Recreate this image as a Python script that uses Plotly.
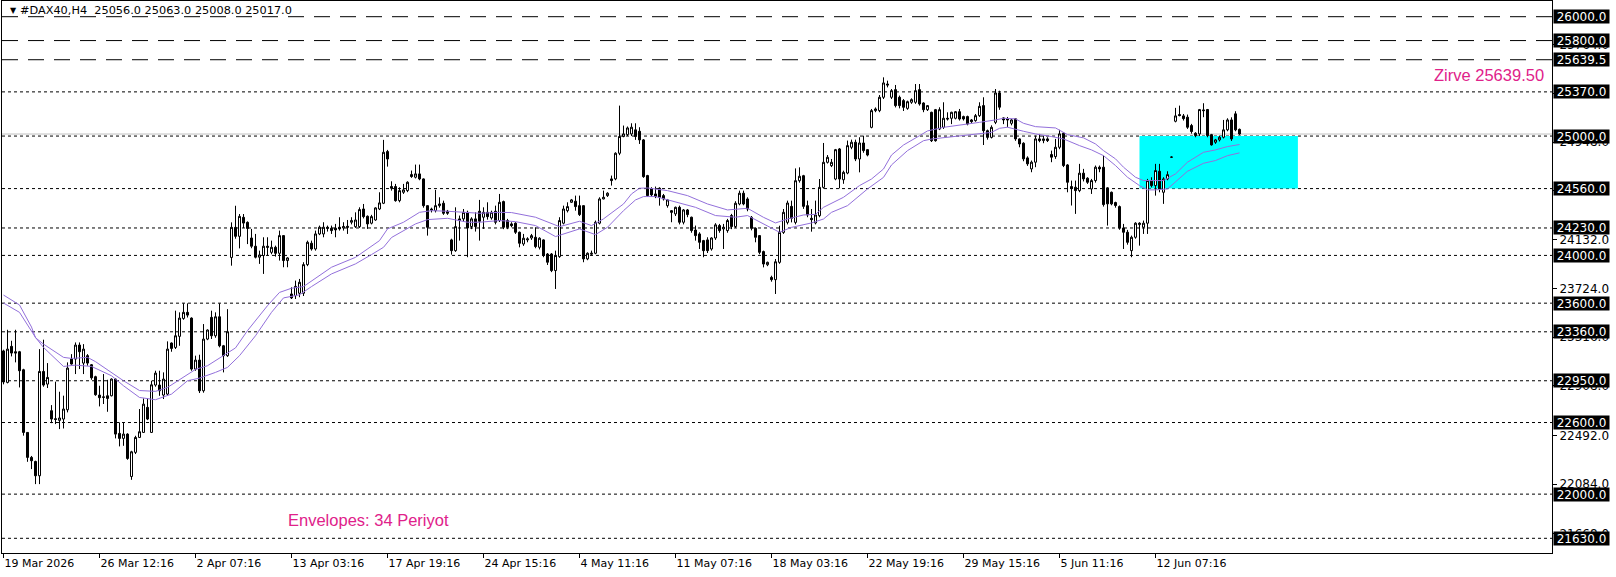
import plotly.graph_objects as go

# ---------------- data ----------------
opens = [
    23200, 22936, 23238, 23193, 23193, 23042, 22517, 22308, 22274, 22154,
    23028, 22922, 22699, 22632, 22618, 22629, 22707, 23132, 23132, 23249,
    23098, 23160, 23084, 22984, 22830, 22815, 22824, 22824, 22964, 22509,
    22467, 22503, 22148, 22350, 22475, 22517, 22727, 22517, 22914, 22914,
    22830, 22838, 23266, 23229, 23322, 23472, 23523, 23475, 23048, 23123,
    22866, 23299, 23481, 23327, 23486, 23243, 23160, 23983, 24235, 24160,
    24319, 24277, 24146, 24077, 23985, 23999, 24077, 24026, 24068, 24018,
    24166, 23957, 23677, 23663, 23683, 23683, 23923, 24102, 24054, 24180,
    24180, 24236, 24228, 24228, 24236, 24230, 24244, 24278, 24241, 24241,
    24389, 24328, 24270, 24297, 24389, 24437, 24870, 24577, 24577, 24459,
    24529, 24543, 24677, 24655, 24683, 24641, 24417, 24389, 24375, 24417,
    24437, 24370, 24130, 24040, 24306, 24306, 24361, 24242, 24306, 24370,
    24320, 24361, 24314, 24370, 24292, 24451, 24292, 24264, 24270, 24194,
    24096, 24130, 24146, 24152, 24068, 24130, 24012, 24012, 23873, 23990,
    24270, 24375, 24445, 24454, 24417, 24417, 23971, 24010, 24018, 24270,
    24473, 24501, 24641, 24641, 24856, 24996, 25012, 25018, 25052, 25040,
    24968, 24669, 24557, 24515, 24563, 24501, 24417, 24375, 24348, 24403,
    24278, 24381, 24320, 24213, 24180, 24124, 24130, 24054, 24146, 24250,
    24222, 24208, 24334, 24242, 24431, 24521, 24473, 24319, 24227, 24166,
    24032, 23922, 23816, 23797, 23942, 24193, 24277, 24411, 24277, 24626,
    24668, 24417, 24311, 24272, 24333, 24570, 24780, 24752, 24640, 24892,
    24634, 24690, 24906, 24948, 24808, 24942, 24886, 25073, 25213, 25213,
    25325, 25436, 25325, 25389, 25325, 25297, 25232, 25283, 25283, 25389,
    25277, 25221, 25199, 25221, 25059, 25073, 25149, 25149, 25149, 25204,
    25163, 25163, 25135, 25129, 25171, 25255, 25045, 24989, 25115, 25361,
    25152, 25146, 25107, 25144, 24976, 24940, 24817, 24725, 24781, 24976,
    24962, 24976, 24845, 24828, 24906, 25024, 24758, 24577, 24571, 24543,
    24689, 24647, 24557, 24627, 24739, 24739, 24566, 24529, 24443, 24409,
    24230, 24194, 24040, 24152, 24258, 24236, 24270, 24627, 24585, 24705,
    24529, 24641, 24823, 25124, 25180, 25169, 25158, 25088, 25024, 25018,
    25219, 25222, 25012, 24948, 24968, 24990, 25052, 25135, 25186, 25056,
]
highs = [
    23210, 23377, 23285, 23377, 23200, 23050, 22520, 22320, 22280, 23215,
    23294, 23098, 22746, 22942, 22858, 22825, 23104, 23173, 23271, 23271,
    23257, 23173, 23090, 22992, 22908, 23006, 22958, 22970, 22970, 22601,
    22601, 22510, 22363, 22489, 22713, 22802, 22802, 22950, 23034, 23034,
    23020, 23280, 23271, 23537, 23523, 23598, 23598, 23481, 23160, 23168,
    23425, 23380, 23537, 23523, 23598, 23250, 23550, 24277, 24416, 24347,
    24347, 24285, 24222, 24180, 24040, 24152, 24152, 24124, 24082, 24208,
    24170, 23985, 23733, 23789, 23803, 23943, 24124, 24124, 24208, 24250,
    24278, 24250, 24250, 24264, 24320, 24278, 24297, 24320, 24361, 24403,
    24431, 24335, 24340, 24403, 24529, 24968, 24884, 24621, 24599, 24571,
    24599, 24621, 24711, 24761, 24761, 24645, 24420, 24400, 24549, 24487,
    24459, 24381, 24140, 24403, 24334, 24389, 24375, 24320, 24361, 24465,
    24403, 24445, 24375, 24417, 24515, 24459, 24306, 24278, 24278, 24200,
    24180, 24152, 24180, 24236, 24152, 24135, 24020, 24020, 24040, 24320,
    24417, 24445, 24473, 24501, 24501, 24420, 24026, 24040, 24292, 24487,
    24543, 24529, 24669, 24864, 25255, 25088, 25080, 25107, 25107, 25074,
    24975, 24675, 24571, 24577, 24571, 24515, 24473, 24380, 24409, 24417,
    24389, 24389, 24325, 24250, 24194, 24130, 24152, 24152, 24270, 24264,
    24264, 24306, 24348, 24454, 24543, 24543, 24487, 24330, 24235, 24170,
    24040, 23948, 23830, 23970, 24249, 24389, 24459, 24459, 24729, 24738,
    24675, 24459, 24389, 24459, 24640, 24942, 24841, 24808, 24892, 24900,
    24710, 24962, 24970, 24970, 24990, 25003, 24890, 25227, 25240, 25344,
    25492, 25464, 25394, 25428, 25339, 25310, 25297, 25316, 25436, 25436,
    25283, 25260, 25204, 25227, 25241, 25283, 25199, 25204, 25210, 25227,
    25171, 25171, 25143, 25185, 25283, 25325, 25054, 25090, 25394, 25380,
    25157, 25160, 25143, 25149, 24980, 24948, 24830, 24795, 25004, 25018,
    25004, 24990, 24878, 24976, 25052, 25032, 24765, 24627, 24627, 24767,
    24725, 24655, 24641, 24753, 24753, 24836, 24571, 24535, 24450, 24418,
    24264, 24214, 24166, 24278, 24278, 24292, 24641, 24655, 24767, 24767,
    24655, 24705, 24830, 25236, 25255, 25185, 25180, 25102, 25032, 25227,
    25275, 25227, 25018, 24976, 25004, 25135, 25149, 25157, 25208, 25063,
]
lows = [
    22920, 22928, 23154, 23104, 22894, 22490, 22271, 22210, 22084, 22084,
    22900, 22889, 22595, 22587, 22545, 22550, 22685, 23085, 23006, 23048,
    23006, 23076, 22958, 22824, 22735, 22755, 22690, 22819, 22467, 22400,
    22405, 22288, 22120, 22336, 22470, 22512, 22620, 22512, 22900, 22824,
    22797, 22830, 23193, 23216, 23243, 23461, 23480, 23034, 23034, 22847,
    22850, 23290, 23300, 23310, 23230, 23020, 23150, 23914, 24140, 24059,
    24230, 24095, 24060, 23975, 23929, 23845, 24000, 24010, 23990, 23957,
    23901, 23901, 23635, 23635, 23650, 23660, 23910, 24040, 24040, 24170,
    24152, 24200, 24180, 24152, 24208, 24208, 24180, 24260, 24230, 24230,
    24310, 24222, 24260, 24290, 24380, 24430, 24744, 24543, 24450, 24445,
    24515, 24530, 24650, 24645, 24630, 24400, 24166, 24360, 24360, 24400,
    24340, 24340, 24007, 24030, 24124, 24280, 23985, 24220, 24200, 24124,
    24222, 24300, 24300, 24260, 24280, 24220, 24220, 24236, 24180, 24068,
    24080, 24110, 24130, 24060, 24050, 23985, 23920, 23860, 23719, 23980,
    24260, 24360, 24440, 24375, 24330, 23943, 23960, 24000, 24010, 24260,
    24470, 24490, 24585, 24630, 24840, 24990, 25000, 25000, 24968, 24934,
    24650, 24490, 24490, 24480, 24417, 24460, 24400, 24278, 24330, 24260,
    24260, 24320, 24190, 24124, 24054, 23985, 24020, 24040, 24130, 24190,
    24054, 24190, 24220, 24230, 24420, 24420, 24370, 24210, 24110, 24010,
    23900, 23910, 23780, 23677, 23930, 24180, 24260, 24277, 24260, 24610,
    24390, 24320, 24199, 24260, 24320, 24560, 24770, 24740, 24630, 24562,
    24600, 24680, 24890, 24790, 24696, 24860, 24830, 25065, 25200, 25200,
    25310, 25408, 25310, 25240, 25232, 25210, 25220, 25270, 25270, 25255,
    25200, 25210, 24950, 24953, 25050, 25060, 25130, 25100, 25140, 25130,
    25130, 25090, 25110, 25120, 25160, 24925, 24970, 24980, 25100, 25220,
    25100, 25074, 25090, 24960, 24906, 24789, 24750, 24697, 24739, 24948,
    24940, 24950, 24781, 24809, 24890, 24740, 24529, 24418, 24348, 24530,
    24620, 24599, 24515, 24610, 24697, 24409, 24250, 24420, 24400, 24215,
    24054, 24090, 23985, 24140, 24082, 24180, 24180, 24570, 24501, 24529,
    24432, 24630, 24818, 25115, 25165, 25130, 25060, 25020, 24990, 25000,
    25158, 24990, 24920, 24935, 24955, 24980, 25040, 24960, 25040, 25008,
]
closes = [
    22940, 23215, 23182, 23182, 23034, 22517, 22308, 22280, 22154, 23028,
    22914, 22978, 22629, 22626, 22638, 22713, 23056, 23090, 23249, 23193,
    23215, 23098, 22975, 22833, 22808, 22811, 22802, 22964, 22503, 22467,
    22503, 22299, 22355, 22475, 22523, 22754, 22629, 22916, 23014, 22866,
    22964, 23215, 23221, 23327, 23475, 23523, 23500, 23048, 23123, 22866,
    23299, 23375, 23327, 23486, 23243, 23160, 23361, 24235, 24160, 24327,
    24271, 24226, 24077, 23985, 24004, 24077, 24068, 24068, 24018, 24166,
    23957, 23979, 23644, 23741, 23775, 23923, 24110, 24054, 24180, 24236,
    24236, 24228, 24208, 24214, 24222, 24242, 24236, 24292, 24297, 24384,
    24325, 24264, 24325, 24398, 24440, 24864, 24808, 24563, 24459, 24543,
    24549, 24613, 24661, 24683, 24641, 24417, 24236, 24381, 24417, 24431,
    24353, 24353, 24040, 24241, 24292, 24361, 24230, 24306, 24242, 24286,
    24361, 24325, 24361, 24278, 24445, 24236, 24236, 24250, 24194, 24102,
    24144, 24138, 24166, 24074, 24144, 23999, 23943, 23873, 23999, 24292,
    24389, 24409, 24465, 24409, 24342, 23971, 24018, 24018, 24278, 24473,
    24487, 24521, 24627, 24856, 24996, 25018, 25068, 25074, 24996, 24968,
    24660, 24501, 24507, 24493, 24487, 24473, 24465, 24361, 24403, 24278,
    24381, 24342, 24208, 24166, 24110, 24040, 24040, 24146, 24256, 24208,
    24236, 24292, 24242, 24437, 24521, 24431, 24389, 24227, 24152, 24026,
    23928, 23942, 23797, 23947, 24193, 24361, 24439, 24311, 24626, 24663,
    24411, 24339, 24300, 24339, 24570, 24780, 24822, 24780, 24886, 24640,
    24696, 24920, 24948, 24808, 24942, 24878, 24841, 25213, 25227, 25325,
    25445, 25428, 25380, 25255, 25255, 25241, 25288, 25305, 25380, 25269,
    25221, 25255, 24961, 24961, 25221, 25149, 25143, 25199, 25204, 25143,
    25143, 25101, 25121, 25171, 25249, 25045, 24989, 25073, 25361, 25242,
    25135, 25135, 25135, 24976, 24934, 24809, 24767, 24781, 24976, 24962,
    24976, 24962, 24823, 24906, 25018, 24753, 24613, 24563, 24543, 24689,
    24641, 24613, 24627, 24739, 24725, 24426, 24432, 24432, 24418, 24230,
    24194, 24110, 24152, 24270, 24270, 24270, 24627, 24585, 24711, 24557,
    24641, 24677, 24823, 25169, 25172, 25146, 25074, 25038, 25004, 25222,
    25213, 25004, 24926, 24968, 24990, 25052, 25135, 24976, 25052, 25017,
]
bars = list(range(len(opens)))

# Envelopes (34) upper / lower bands, read at sample bars
env_up_bars = [0, 4, 7, 8, 10, 15, 17, 21, 23, 27, 30, 34, 38, 41, 44, 48, 51, 54, 58, 61,
               66, 69, 72, 75, 82, 88, 94, 96, 100, 104, 107, 111, 116, 119, 124, 127, 133,
               139, 144, 147, 150, 155, 157, 159, 161, 166, 171, 176, 181, 186, 190, 193,
               196, 200, 203, 205, 210, 214, 217, 220, 222, 225, 229, 231, 235, 240, 244,
               248, 250, 253, 255, 258, 263, 266, 270, 273, 275, 278, 280, 283, 285, 288,
               290, 293, 296, 300, 303, 306, 309]
env_up = [23668, 23585, 23400, 23310, 23257, 23146, 23137, 23146, 23110, 23020, 22950,
          22868, 22861, 22894, 22960, 23045, 23076, 23137, 23225, 23370, 23579, 23690,
          23725, 23739, 23901, 23984, 24124, 24222, 24278, 24361, 24375, 24370, 24356,
          24353, 24361, 24359, 24320, 24241, 24286, 24250, 24306, 24431, 24515, 24563,
          24565, 24543, 24501, 24431, 24381, 24395, 24319, 24272, 24305, 24339, 24344,
          24403, 24487, 24585, 24640, 24724, 24841, 24925, 25003, 25043, 25073, 25093,
          25115, 25135, 25149, 25144, 25107, 25079, 25068, 25012, 24985, 24934, 24878,
          24809, 24739, 24655, 24627, 24627, 24627, 24683, 24781, 24864, 24884, 24912,
          24929]
env_lo_bars = [0, 4, 8, 10, 15, 18, 22, 27, 30, 34, 38, 42, 46, 49, 53, 56, 59, 63, 67, 70,
               74, 77, 82, 88, 92, 95, 97, 100, 103, 106, 111, 116, 119, 124, 128, 133, 138,
               144, 148, 151, 155, 158, 160, 163, 168, 173, 178, 183, 186, 190, 194, 197,
               202, 205, 207, 211, 216, 220, 222, 226, 230, 232, 236, 240, 244, 247, 249,
               251, 255, 258, 262, 265, 269, 272, 275, 278, 281, 284, 286, 288, 291, 293,
               296, 300, 303, 306, 309]
env_lo = [23601, 23523, 23313, 23229, 23070, 23081, 23070, 22992, 22908, 22810, 22791,
          22838, 22950, 22972, 23020, 23062, 23160, 23327, 23523, 23644, 23670, 23739,
          23845, 23929, 24007, 24068, 24150, 24208, 24264, 24300, 24311, 24278, 24278,
          24292, 24283, 24250, 24158, 24222, 24174, 24236, 24375, 24465, 24493, 24493,
          24445, 24403, 24334, 24320, 24334, 24263, 24194, 24235, 24272, 24305, 24361,
          24417, 24557, 24654, 24758, 24878, 24961, 24975, 24989, 25009, 25017, 25031,
          25065, 25074, 25040, 25018, 24996, 24976, 24920, 24884, 24836, 24753, 24655,
          24585, 24549, 24549, 24557, 24613, 24705, 24772, 24795, 24836, 24859]

levels_dash = [26000.0, 25800.0, 25639.5]
levels_dot = [25370.0, 25000.0, 24560.0, 24230.0, 24000.0, 23600.0, 23360.0,
              22950.0, 22600.0, 22000.0, 21630.0]
price_ticks = [21668, 22084, 22492, 22908, 23316, 23724, 24132, 24540, 24948, 25356, 25764]
time_tick_bars = [0, 24, 48, 72, 96, 120, 144, 168, 192, 216, 240, 264, 288]
time_tick_text = ["19 Mar 2026", "26 Mar 12:16", "2 Apr 07:16", "13 Apr 03:16",
                  "17 Apr 19:16", "24 Apr 15:16", "4 May 11:16", "11 May 07:16",
                  "18 May 03:16", "22 May 19:16", "29 May 15:16", "5 Jun 11:16",
                  "12 Jun 07:16"]
zone_bars = [284, 323.6]
zone_prices = [24560, 25000]
bid_price = 25017.0
title_text = "#DAX40,H4  25056.0 25063.0 25008.0 25017.0"
peak_text = "Zirve 25639.50"
env_text = "Envelopes: 34 Periyot"

# ---------------- layout geometry ----------------
W, H = 1616, 577
ML, MR, MT, MB = 2, 64, 1, 24
PW, PH = W - ML - MR, H - MT - MB


def px(x):
    return (x - ML) / PW


def py(y):
    return 1 - (y - MT) / PH


PINK = "#E0218A"
ENV = "#9370DB"

fig = go.Figure()

fig.add_trace(go.Candlestick(
    x=bars, open=opens, high=highs, low=lows, close=closes,
    increasing=dict(line=dict(color="black", width=1), fillcolor="white"),
    decreasing=dict(line=dict(color="black", width=1), fillcolor="black"),
    whiskerwidth=0, hoverinfo="skip", showlegend=False,
))
fig.add_trace(go.Scatter(x=env_up_bars, y=env_up, mode="lines",
                         line=dict(color=ENV, width=1), hoverinfo="skip", showlegend=False))
fig.add_trace(go.Scatter(x=env_lo_bars, y=env_lo, mode="lines",
                         line=dict(color=ENV, width=1), hoverinfo="skip", showlegend=False))

shapes = []
shapes.append(dict(type="rect", xref="x", yref="y", x0=zone_bars[0], x1=zone_bars[1],
                   y0=zone_prices[0], y1=zone_prices[1], fillcolor="#00FFFF",
                   line=dict(width=0), layer="below"))
shapes.append(dict(type="line", xref="paper", yref="y", x0=0, x1=1, y0=bid_price, y1=bid_price,
                   line=dict(color="#C0C0C0", width=1), layer="below"))
for lv in levels_dash:
    shapes.append(dict(type="line", xref="paper", yref="y", x0=0, x1=1, y0=lv, y1=lv,
                       line=dict(color="black", width=1, dash="16px,10px"), layer="below"))
for lv in levels_dot:
    shapes.append(dict(type="line", xref="paper", yref="y", x0=0, x1=1, y0=lv, y1=lv,
                       line=dict(color="black", width=1, dash="3px,3px"), layer="below"))

annotations = []
for lv in levels_dash + levels_dot:
    annotations.append(dict(xref="paper", yref="y", x=px(1553), y=lv, xanchor="left",
                            yanchor="middle", text=f"{lv:.1f}", showarrow=False,
                            bgcolor="black", width=55, height=13, borderpad=0,
                            font=dict(family="DejaVu Sans", size=12, color="white")))
annotations.append(dict(xref="paper", yref="paper", x=px(8), y=py(11), xanchor="left",
                        yanchor="middle", text="▼", showarrow=False,
                        font=dict(family="DejaVu Sans", size=8, color="black")))
annotations.append(dict(xref="paper", yref="paper", x=px(18), y=py(11), xanchor="left",
                        yanchor="middle", text=title_text, showarrow=False,
                        font=dict(family="DejaVu Sans", size=11.3, color="black")))
annotations.append(dict(xref="paper", yref="paper", x=px(1546), y=py(75), xanchor="right",
                        yanchor="middle", text=peak_text, showarrow=False,
                        font=dict(family="Liberation Sans", size=16.5, color=PINK)))
annotations.append(dict(xref="paper", yref="paper", x=px(286), y=py(520), xanchor="left",
                        yanchor="middle", text=env_text, showarrow=False,
                        font=dict(family="Liberation Sans", size=16.5, color=PINK)))

fig.update_layout(
    width=W, height=H,
    margin=dict(l=ML, r=MR, t=MT, b=MB, pad=0),
    paper_bgcolor="white", plot_bgcolor="white",
    boxgap=0.5, boxgroupgap=0,
    showlegend=False,
    shapes=shapes, annotations=annotations,
    xaxis=dict(range=[-0.375, 387.125], type="linear", rangeslider=dict(visible=False),
               showgrid=False, zeroline=False, showline=True, mirror=True,
               linecolor="black", linewidth=1,
               tickmode="array", tickvals=time_tick_bars, ticktext=time_tick_text,
               ticks="outside", ticklen=4, tickcolor="black",
               ticklabelposition="outside right",
               tickfont=dict(family="DejaVu Sans", size=11, color="black"), fixedrange=True),
    yaxis=dict(range=[21506.9, 26131.5], side="right", showgrid=False, zeroline=False,
               showline=True, mirror=True, linecolor="black", linewidth=1,
               tickmode="array", tickvals=price_ticks,
               ticktext=[f"{v:.1f}" for v in price_ticks],
               ticks="outside", ticklen=4, tickcolor="black",
               tickfont=dict(family="DejaVu Sans", size=12, color="black"), fixedrange=True),
    hovermode=False,
)

fig.write_html("out.html", config={"displayModeBar": False})
